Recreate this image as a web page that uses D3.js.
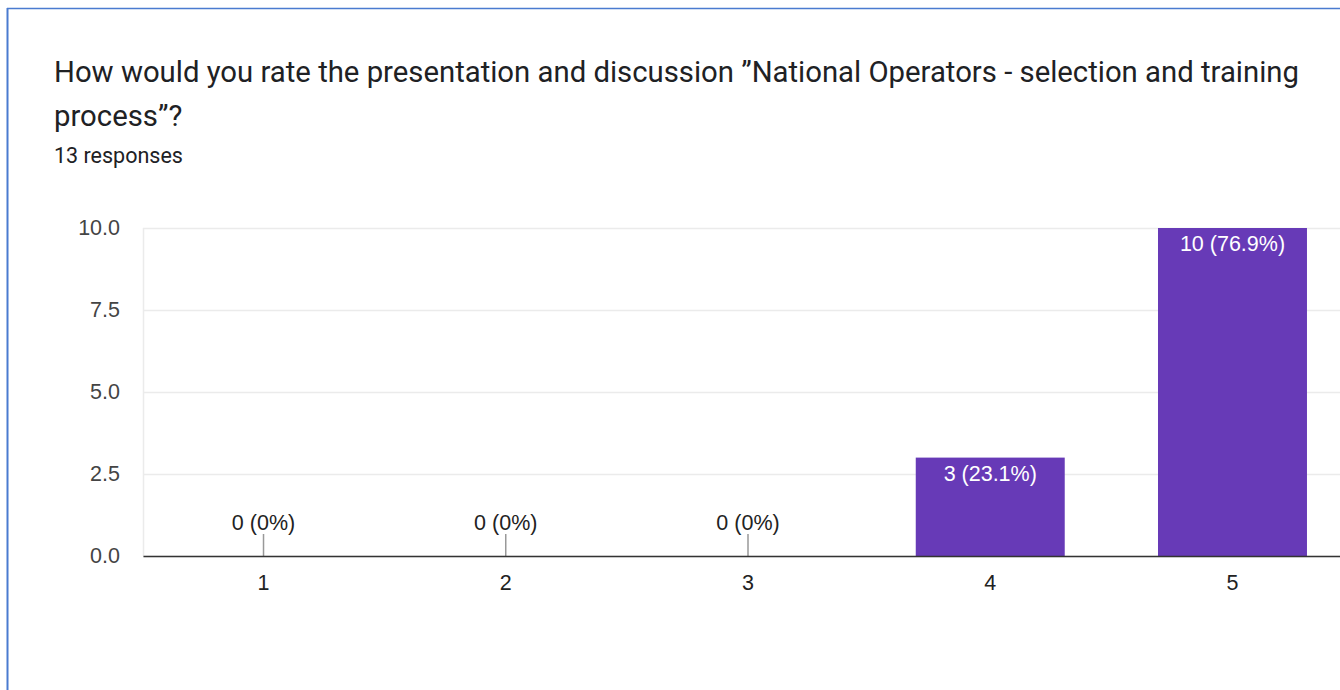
<!DOCTYPE html>
<html lang="en">
<head>
  <meta charset="UTF-8">
  <title>National Operators rating</title>
  <script src="https://d3js.org/d3.v7.min.js"></script>
  <style>
    body { margin: 0; padding: 0; background: #fff; font-family: Roboto, Arial, sans-serif; }
    svg { display: block; }
    .grid line { stroke: #ebebeb; stroke-width: 1.5px; }
    .grid path { display: none; }
    .chart-text, .yaxis text, .xaxis text { font-family: "Liberation Sans", Arial, sans-serif; font-size: 21.5px; }
    .yaxis text { fill: #444; }
    .xaxis text { fill: #222; }
  </style>
</head>
<body>
  <div id="chart"></div>

  <script>
    const width = 1340;
    const height = 690;

    const categories = ["1", "2", "3", "4", "5"];
    const counts = [0, 0, 0, 3, 10];
    const labels = ["0 (0%)", "0 (0%)", "0 (0%)", "3 (23.1%)", "10 (76.9%)"];
    const yTicks = [0, 2.5, 5, 7.5, 10];

    const svg = d3.select("#chart")
      .append("svg")
      .attr("width", width)
      .attr("height", height);

    // card border (blue on top and left)
    svg.append("line").attr("x1", 7).attr("x2", width).attr("y1", 8.5).attr("y2", 8.5)
      .attr("stroke", "#4a7bd0").attr("stroke-width", 1.5);
    svg.append("line").attr("x1", 7.5).attr("x2", 7.5).attr("y1", 8).attr("y2", height)
      .attr("stroke", "#4a7bd0").attr("stroke-width", 2);

    // title
    svg.append("text").attr("x", 54).attr("y", 82)
      .attr("fill", "#202124").style("font-size", "29.3px")
      .text("How would you rate the presentation and discussion \u201dNational Operators - selection and training");
    svg.append("text").attr("x", 54).attr("y", 126)
      .attr("fill", "#202124").style("font-size", "29.3px")
      .text("process\u201d?");
    svg.append("text").attr("x", 54).attr("y", 163)
      .attr("fill", "#202124").style("font-size", "21.5px")
      .text("13 responses");

    const x = d3.scaleBand()
      .domain(categories)
      .range([143, 1353])
      .paddingInner(0.385)
      .paddingOuter(0.19);

    const y = d3.scaleLinear()
      .domain([0, 10])
      .range([556, 228]);

    // grid
    svg.append("g")
      .attr("class", "grid")
      .attr("transform", "translate(143,0)")
      .call(d3.axisLeft(y).tickValues(yTicks).tickSize(-(1353 - 143)).tickFormat(""));
    svg.append("line").attr("x1", 143.5).attr("x2", 143.5).attr("y1", 228).attr("y2", 556)
      .attr("stroke", "#ebebeb").attr("stroke-width", 1.5);

    // y labels
    const ya = svg.append("g")
      .attr("class", "yaxis")
      .attr("transform", "translate(143,0)")
      .call(d3.axisLeft(y).tickValues(yTicks).tickSize(0).tickPadding(23).tickFormat(d3.format(".1f")));
    ya.select(".domain").remove();

    // bars
    svg.append("g")
      .selectAll("rect")
      .data(counts)
      .join("rect")
      .attr("x", (d, i) => x(categories[i]))
      .attr("y", d => y(d))
      .attr("width", x.bandwidth())
      .attr("height", d => y(0) - y(d))
      .attr("fill", "#673ab7");

    // zero markers
    svg.append("g")
      .selectAll("line")
      .data(counts)
      .join("line")
      .filter(d => d === 0)
      .attr("x1", (d, i) => x(categories[i]) + x.bandwidth() / 2)
      .attr("x2", (d, i) => x(categories[i]) + x.bandwidth() / 2)
      .attr("y1", y(0) - 22)
      .attr("y2", y(0))
      .attr("stroke", "#999")
      .attr("stroke-width", 1.5);

    // value labels
    svg.append("g")
      .selectAll("text")
      .data(counts)
      .join("text")
      .attr("class", "chart-text")
      .attr("x", (d, i) => x(categories[i]) + x.bandwidth() / 2)
      .attr("y", d => d === 0 ? y(0) - 26 : y(d) + 23)
      .attr("text-anchor", "middle")
      .attr("fill", d => d === 0 ? "#222" : "#fff")
      .text((d, i) => labels[i]);

    // x axis
    const xa = svg.append("g")
      .attr("class", "xaxis")
      .attr("transform", `translate(0,${y(0)})`)
      .call(d3.axisBottom(x).tickSize(0).tickPadding(19));
    xa.select(".domain").attr("stroke", "#333").attr("stroke-width", 1.5);
  </script>
</body>
</html>
